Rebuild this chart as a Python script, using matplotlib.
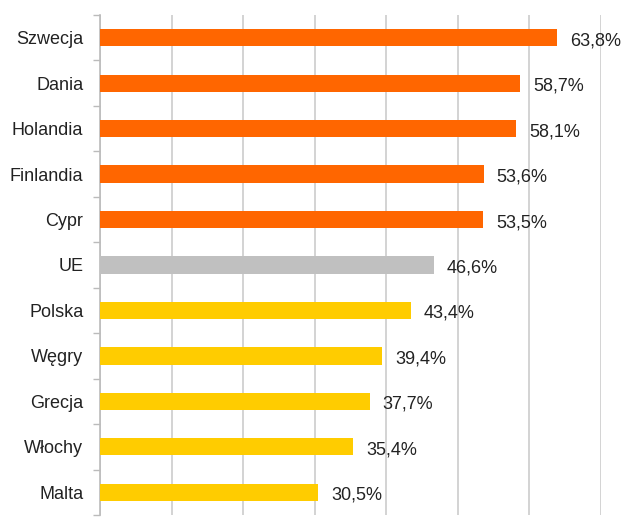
import matplotlib
matplotlib.use("Agg")
import matplotlib.pyplot as plt
import numpy as np
from matplotlib.transforms import offset_copy

categories = ["Szwecja", "Dania", "Holandia", "Finlandia", "Cypr", "UE",
              "Polska", "Węgry", "Grecja", "Włochy", "Malta"]
values = [63.8, 58.7, 58.1, 53.6, 53.5, 46.6, 43.4, 39.4, 37.7, 35.4, 30.5]
value_labels = ["63,8%", "58,7%", "58,1%", "53,6%", "53,5%", "46,6%",
                "43,4%", "39,4%", "37,7%", "35,4%", "30,5%"]
groups = ["top", "top", "top", "top", "top", "eu",
          "low", "low", "low", "low", "low"]
group_colors = {"top": "#FF6600", "eu": "#C0C0C0", "low": "#FFCC00"}

plt.rcParams['font.family'] = ['Liberation Sans', 'DejaVu Sans']

fig = plt.figure(figsize=(6.44, 5.27), dpi=100)
ax = fig.add_axes([100/644, 1 - 515/527, (601 - 100)/644, 500/527])

y = np.arange(len(categories))
colors = [group_colors[g] for g in groups]
ax.barh(y, values, height=0.38, color=colors, zorder=3)

ax.set_xlim(0, 70)
ax.set_ylim(len(categories) - 0.5, -0.5)
ax.set_xticks(np.arange(0, 71, 10))
ax.xaxis.grid(True, color="#D0D0D0", linewidth=1.3, zorder=0)
ax.tick_params(axis='x', length=0, labelbottom=False)

ax.set_yticks(y)
ax.set_yticklabels(categories, fontsize=13, color="#222222")
ax.set_yticks(np.arange(-0.5, len(categories), 1), minor=True)
ax.tick_params(axis='y', which='major', length=0, pad=12)
ax.tick_params(axis='y', which='minor', length=5, color="#BBBBBB", width=1)

for s in ["top", "right", "bottom"]:
    ax.spines[s].set_visible(False)
ax.spines["left"].set_color("#BBBBBB")
ax.spines["left"].set_linewidth(1.2)

trans = offset_copy(ax.transData, fig=fig, x=13, y=-3, units='dots')
for yi, v, lab in zip(y, values, value_labels):
    ax.text(v, yi, lab, transform=trans, ha='left', va='center',
            fontsize=13, color="#222222", clip_on=False)

fig.savefig("out.png", dpi=100)
